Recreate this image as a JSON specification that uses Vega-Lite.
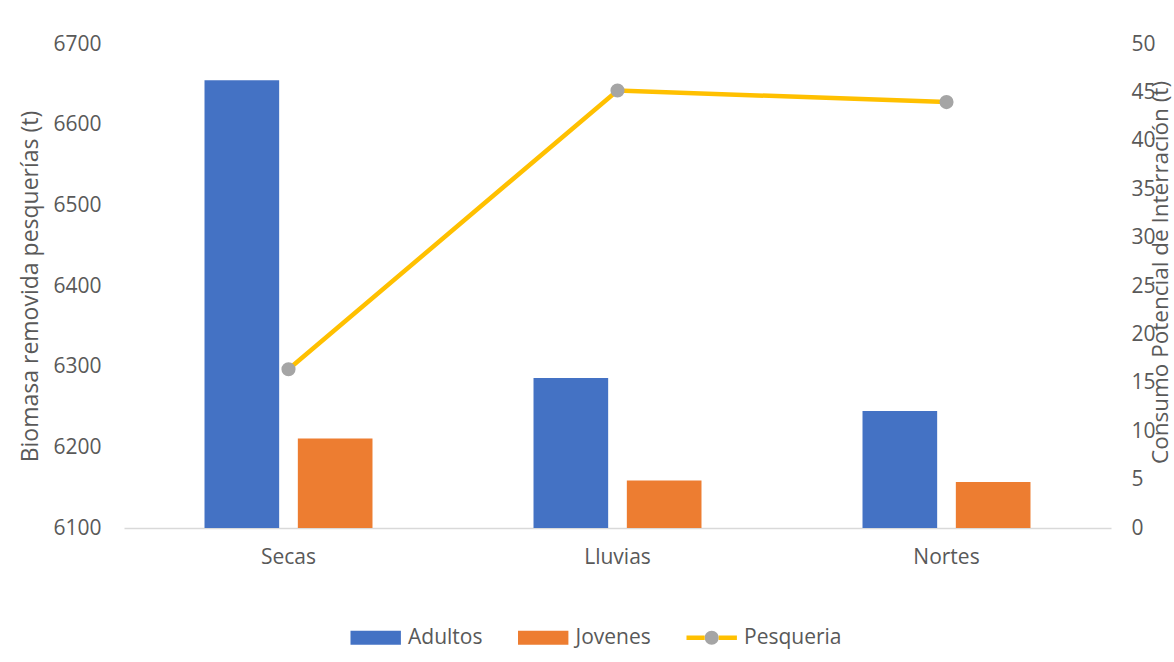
{
  "$schema": "https://vega.github.io/schema/vega-lite/v6.json",
  "width": 987,
  "height": 484,
  "autosize": "none",
  "padding": {"left": 124, "top": 44, "right": 63, "bottom": 134},
  "background": "white",
  "datasets": {
    "barras": [
      {"estacion": "Secas", "serie": "Adultos", "valor": 6655},
      {"estacion": "Secas", "serie": "Jovenes", "valor": 6211},
      {"estacion": "Lluvias", "serie": "Adultos", "valor": 6286},
      {"estacion": "Lluvias", "serie": "Jovenes", "valor": 6159},
      {"estacion": "Nortes", "serie": "Adultos", "valor": 6245},
      {"estacion": "Nortes", "serie": "Jovenes", "valor": 6157}
    ],
    "linea": [
      {"estacion": "Secas", "serie": "Pesqueria", "valor": 16.4},
      {"estacion": "Lluvias", "serie": "Pesqueria", "valor": 45.2},
      {"estacion": "Nortes", "serie": "Pesqueria", "valor": 44.0}
    ]
  },
  "config": {
    "view": {"stroke": null},
    "axis": {
      "labelFont": "Open Sans",
      "titleFont": "Open Sans",
      "labelFontSize": 21,
      "titleFontSize": 23,
      "titleFontWeight": "normal",
      "labelColor": "#595959",
      "titleColor": "#595959",
      "grid": false,
      "ticks": false
    },
    "axisY": {"domain": false},
    "legend": {
      "labelFont": "Open Sans",
      "labelFontSize": 21,
      "labelColor": "#595959"
    }
  },
  "layer": [
    {
      "data": {"name": "barras"},
      "mark": {"type": "bar"},
      "encoding": {
        "x": {
          "field": "estacion",
          "type": "nominal",
          "scale": {"domain": ["Secas", "Lluvias", "Nortes"], "paddingInner": 0.4894, "paddingOuter": 0.2447},
          "axis": {"title": null, "labelAngle": 0, "domain": true, "domainColor": "#D9D9D9", "domainWidth": 1.5, "labelPadding": 18}
        },
        "xOffset": {
          "field": "serie",
          "type": "nominal",
          "scale": {"domain": ["Adultos", "Jovenes"], "paddingInner": 0.2, "paddingOuter": 0}
        },
        "y": {
          "field": "valor",
          "type": "quantitative",
          "scale": {"domain": [6100, 6700], "zero": false, "nice": false},
          "axis": {
            "orient": "left",
            "title": "Biomasa removida pesquerías (t)",
            "values": [6100, 6200, 6300, 6400, 6500, 6600, 6700],
            "format": "d",
            "labelPadding": 23,
            "titleAngle": 270,
            "titleX": -87,
            "titleY": 242,
            "titleAlign": "center",
            "titleBaseline": "alphabetic"
          }
        },
        "y2": {"datum": 6100},
        "color": {
          "field": "serie",
          "type": "nominal",
          "scale": {"domain": ["Adultos", "Jovenes", "Pesqueria"], "range": ["#4472C4", "#ED7D31", "#A5A5A5"]},
          "legend": {
            "title": null,
            "orient": "none",
            "legendX": 224,
            "legendY": 577,
            "direction": "horizontal",
            "symbolSize": 784,
            "labelOffset": 27,
            "columnPadding": 25.5,
            "encode": {
              "symbols": {
                "update": {
                  "shape": {"signal": "datum.value === 'Pesqueria' ? 'M1.3,0A0.5,0.5 0 1,1 0.3,0A0.5,0.5 0 1,1 1.3,0Z M2.29,0L-1,0L0.3,0 M-0.69,0L2.6,0L1.3,0' : 'M-1,-0.5L2.6,-0.5L2.6,0.5L-1,0.5Z'"},
                  "fill": {"signal": "datum.value === 'Pesqueria' ? '#A5A5A5' : (datum.value === 'Adultos' ? '#4472C4' : '#ED7D31')"},
                  "stroke": {"signal": "datum.value === 'Pesqueria' ? '#FFC000' : 'transparent'"},
                  "strokeWidth": {"value": 4.5},
                  "strokeDash": {"value": [0, 46, 300, 1000]},
                  "strokeCap": {"value": "butt"},
                  "opacity": {"value": 1},
                  "fillOpacity": {"value": 1},
                  "strokeOpacity": {"value": 1}
                }
              }
            }
          }
        }
      }
    },
    {
      "data": {"name": "linea"},
      "encoding": {
        "x": {"field": "estacion", "type": "nominal"},
        "y": {
          "field": "valor",
          "type": "quantitative",
          "scale": {"domain": [0, 50], "nice": false},
          "axis": {
            "orient": "right",
            "title": "Consumo Potencial de Interración (t)",
            "titleFontSize": 22.5,
            "values": [0, 5, 10, 15, 20, 25, 30, 35, 40, 45, 50],
            "labelPadding": 20,
            "titleAngle": 270,
            "titleX": 56,
            "titleY": 228,
            "titleAlign": "center",
            "titleBaseline": "alphabetic"
          }
        }
      },
      "layer": [
        {
          "mark": {"type": "line", "strokeWidth": 4.5, "strokeCap": "round", "color": "#FFC000"}
        },
        {
          "mark": {"type": "point", "filled": true, "color": "#A5A5A5", "size": 200, "opacity": 1}
        }
      ]
    }
  ],
  "resolve": {"scale": {"y": "independent"}, "axis": {"y": "independent"}}
}
